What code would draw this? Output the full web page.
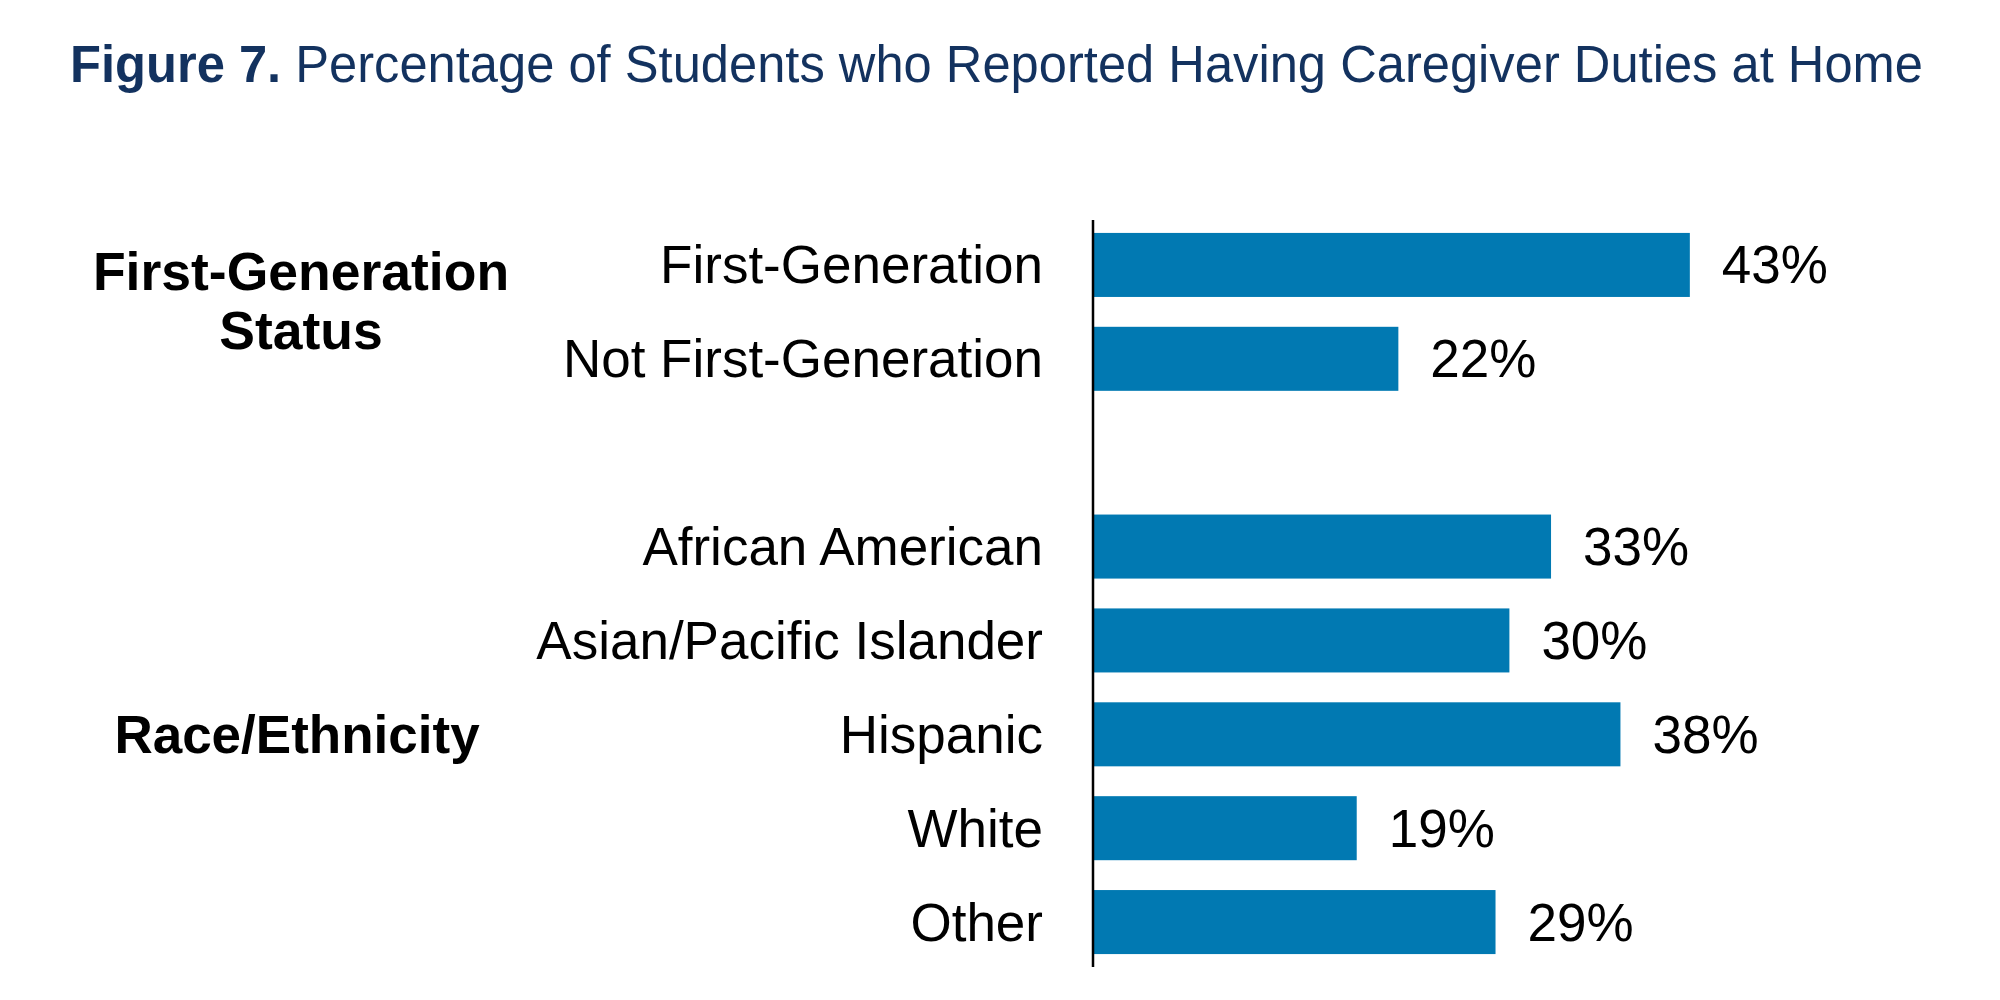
<!DOCTYPE html>
<html>
<head>
<meta charset="utf-8">
<script src="https://cdn.jsdelivr.net/npm/d3@7"></script>
<style>
  body { margin: 0; background: #fff; }
  svg text { font-family: "Liberation Sans", Arial, sans-serif; }
</style>
</head>
<body>
<div id="chart"></div>
<script>
const width = 2000;
const height = 1000;

// data
const categories = [
    "First-Generation",
    "Not First-Generation",
    "African American",
    "Asian/Pacific Islander",
    "Hispanic",
    "White",
    "Other"
];
const values = [43, 22, 33, 30, 38, 19, 29];
const groups = ["First-Generation Status", "Race/Ethnicity"];
const groupOf = [0, 0, 1, 1, 1, 1, 1];

const barColor = "#0179b2";
const titleColor = "#13325f";

// slot list with an empty gap between the two groups
const slots = categories.slice(0, 2).concat(["__gap"], categories.slice(2));

let svg = d3
    .select("#chart")
    .append("svg")
    .attr("width", width)
    .attr("height", height);

// title
const title = svg
    .append("text")
    .attr("x", 70)
    .attr("y", 82)
    .attr("fill", titleColor)
    .attr("textLength", 1853)
    .attr("lengthAdjust", "spacingAndGlyphs")
    .style("font-size", "51px");
title.append("tspan").style("font-weight", "bold").text("Figure 7.");
title.append("tspan").text(" Percentage of Students who Reported Having Caregiver Duties at Home");

const axisX = 1093;

const yScale = d3
    .scaleBand()
    .domain(slots)
    .range([218, 969])
    .paddingInner(0.318)
    .paddingOuter(0.159);

const xScale = d3
    .scaleLinear()
    .domain([0, 100])
    .range([axisX, axisX + 1388]);

const rows = categories.map((c, i) => ({ cat: c, value: values[i], group: groupOf[i] }));

svg.selectAll("rect.bar")
    .data(rows)
    .enter()
    .append("rect")
    .attr("class", "bar")
    .attr("x", xScale(0))
    .attr("y", (d) => yScale(d.cat))
    .attr("width", (d) => xScale(d.value) - xScale(0))
    .attr("height", yScale.bandwidth())
    .attr("fill", barColor);

// value labels
svg.selectAll("text.val")
    .data(rows)
    .enter()
    .append("text")
    .attr("class", "val")
    .attr("x", (d) => xScale(d.value) + 32)
    .attr("y", (d) => yScale(d.cat) + yScale.bandwidth() / 2)
    .attr("dy", "0.35em")
    .style("font-size", "53px")
    .attr("fill", "#000")
    .text((d) => d.value + "%");

// category labels
svg.selectAll("text.cat")
    .data(rows)
    .enter()
    .append("text")
    .attr("class", "cat")
    .attr("x", axisX - 50)
    .attr("y", (d) => yScale(d.cat) + yScale.bandwidth() / 2)
    .attr("dy", "0.35em")
    .attr("text-anchor", "end")
    .style("font-size", "53px")
    .attr("fill", "#000")
    .text((d) => d.cat);

// vertical axis line
svg.append("line")
    .attr("x1", axisX)
    .attr("x2", axisX)
    .attr("y1", yScale.range()[0] + 2)
    .attr("y2", yScale.range()[1] - 2)
    .attr("stroke", "#000")
    .attr("stroke-width", 2.5);

// group labels
const groupCenterX = 301;
const fgMid = (yScale(categories[0]) + yScale(categories[1]) + yScale.bandwidth()) / 2;
const fgWords = groups[0].split(" ");
const fgText = svg
    .append("text")
    .attr("x", groupCenterX)
    .attr("y", fgMid - 7)
    .attr("text-anchor", "middle")
    .style("font-size", "53.5px")
    .style("font-weight", "bold");
fgWords.forEach((w, i) => {
    fgText.append("tspan")
        .attr("x", groupCenterX)
        .attr("dy", i === 0 ? "-0.27em" : "1.1em")
        .text(w);
});

const raceMid = yScale("Hispanic") + yScale.bandwidth() / 2;
svg.append("text")
    .attr("x", groupCenterX - 4)
    .attr("y", raceMid)
    .attr("dy", "0.35em")
    .attr("text-anchor", "middle")
    .style("font-size", "53px")
    .style("font-weight", "bold")
    .text(groups[1]);
</script>
</body>
</html>
